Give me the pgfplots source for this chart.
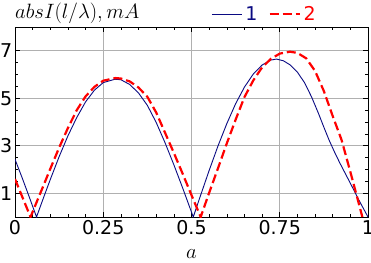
\documentclass[border=0pt]{standalone}
\usepackage{fontspec}
\setmainfont{DejaVu Sans}
\usepackage{pgfplots}
\pgfplotsset{compat=1.18}
\definecolor{navyb}{RGB}{10,10,130}
\definecolor{gridg}{RGB}{176,176,176}
\begin{document}
\begin{tikzpicture}
\begin{axis}[
  name=ax,
  scale only axis, width=353pt, height=190pt,
  at={(0,0)}, anchor=south west,
  xmin=0, xmax=1, ymin=0, ymax=8,
  xtick={0,0.25,0.5,0.75,1}, xticklabels={0,0.25,0.5,0.75,1},
  ytick={1,3,5,7}, yticklabels={1,3,5,7},
  minor x tick num=4, minor y tick num=3,
  tick align=inside, major tick length=5pt, minor tick length=3pt,
  xtick pos=both, ytick pos=both,
  grid=major, major grid style={gridg, line width=0.8pt},
  axis line style={black, line width=0.8pt},
  tick style={black, line width=0.6pt},
  /pgf/number format/assume math mode=true,
  tick label style={font=\fontsize{19}{22}\selectfont, inner sep=0pt},
  xticklabel shift=3pt, yticklabel shift=2.5pt,
  legend columns=2,
  legend style={at={(0.556,1.068)}, anchor=west, draw=none, fill=none,
    inner sep=0pt, font=\fontsize{19}{22}\selectfont,
    nodes={inner sep=3pt},
    /tikz/every even column/.append style={column sep=8pt}},
  legend image code/.code={\draw[#1] (0pt,0pt) -- (30pt,0pt);},
  clip=true,
]
\addplot[navyb, line width=0.9pt] coordinates {
(0,2.43) (0.02,1.66) (0.04,0.86) (0.061,0) (0.08,0.78) (0.10,1.58)
(0.125,2.54) (0.15,3.42) (0.175,4.19) (0.20,4.85) (0.225,5.34) (0.25,5.66)
(0.283,5.80) (0.30,5.78) (0.325,5.58) (0.35,5.22) (0.375,4.70) (0.40,3.98)
(0.425,3.13) (0.45,2.20) (0.475,1.22) (0.505,0) (0.525,0.88) (0.55,1.96)
(0.575,2.99) (0.60,3.93) (0.625,4.77) (0.65,5.47) (0.675,6.02) (0.70,6.40)
(0.725,6.61) (0.741,6.65) (0.76,6.58) (0.78,6.40) (0.80,6.10) (0.82,5.66)
(0.84,5.06) (0.86,4.35) (0.875,3.78) (0.89,3.23) (0.905,2.74) (0.92,2.28)
(0.935,1.85) (0.95,1.42) (0.975,0.69) (1.0,0)};
\addlegendentry{\textcolor{navyb}{1}}
\addplot[red, line width=2.2pt, dash pattern=on 9pt off 4pt] coordinates {
(0,1.60) (0.02,0.87) (0.044,0) (0.06,0.58) (0.08,1.30) (0.10,2.03)
(0.125,2.92) (0.15,3.75) (0.175,4.50) (0.20,5.08) (0.225,5.48) (0.25,5.74)
(0.285,5.85) (0.30,5.83) (0.325,5.71) (0.35,5.45) (0.375,5.06) (0.40,4.40)
(0.425,3.55) (0.45,2.70) (0.475,1.82) (0.50,0.92) (0.526,0) (0.55,1.02)
(0.575,2.05) (0.60,3.10) (0.625,4.10) (0.65,5.05) (0.675,5.75) (0.70,6.30)
(0.725,6.66) (0.75,6.88) (0.779,6.96) (0.80,6.91) (0.825,6.68) (0.85,6.15)
(0.875,5.30) (0.90,4.25) (0.925,3.25) (0.95,1.90) (0.968,0.90) (0.984,0)};
\addlegendentry{\textcolor{red}{2}}
\end{axis}
\node[anchor=base west, inner sep=0pt, font=\fontsize{19.5}{22}\selectfont]
  at ([yshift=8.5pt]ax.north west) {$absI(l/\lambda), mA$};
\node[anchor=base, inner sep=0pt, font=\fontsize{19.5}{22}\selectfont]
  at ([yshift=-41.5pt]ax.south) {$a$};
\pgfresetboundingbox
\useasboundingbox (-15pt,-45pt) rectangle (356pt,217pt);
\end{tikzpicture}
\end{document}
